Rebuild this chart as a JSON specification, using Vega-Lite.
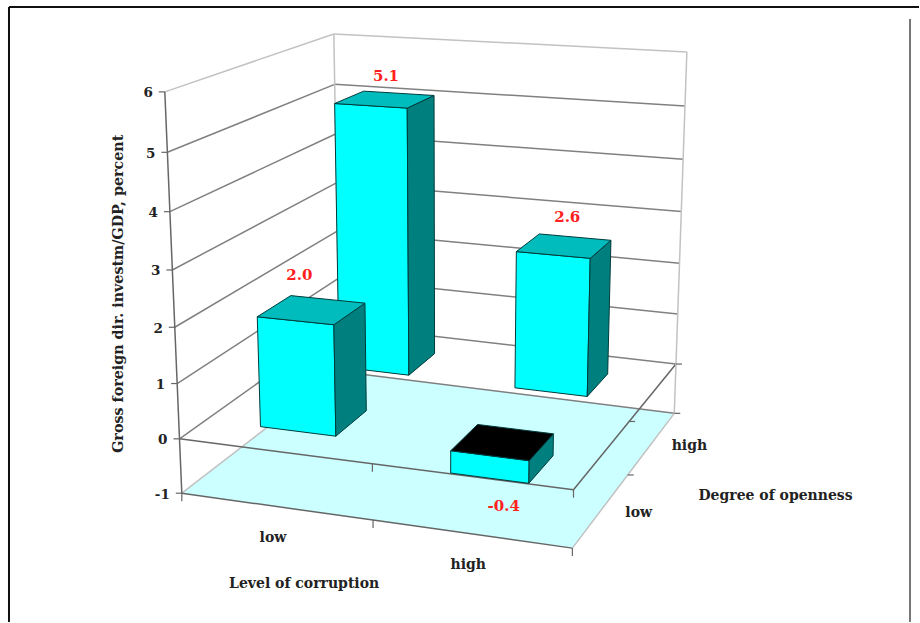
{
  "$schema": "https://vega.github.io/schema/vega-lite/v6.json",
  "width": 920,
  "height": 623,
  "padding": 0,
  "autosize": {"type": "fit", "contains": "padding"},
  "background": "white",
  "config": {"view": {"stroke": null}},
  "data": {
    "values": [
      {"part": "frame", "edge": "top"},
      {"part": "frame", "edge": "left"},
      {"part": "frame", "edge": "right"},
      {"part": "floor"},
      {"part": "level", "level": -1},
      {"part": "level", "level": 0},
      {"part": "level", "level": 1},
      {"part": "level", "level": 2},
      {"part": "level", "level": 3},
      {"part": "level", "level": 4},
      {"part": "level", "level": 5},
      {"part": "level", "level": 6},
      {"part": "bar", "corruption": "low", "openness": "high", "value": 5.1},
      {"part": "bar", "corruption": "high", "openness": "high", "value": 2.6},
      {"part": "bar", "corruption": "low", "openness": "low", "value": 2.0},
      {"part": "bar", "corruption": "high", "openness": "low", "value": -0.4},
      {"part": "category", "axis": "corruption", "label": "low"},
      {"part": "category", "axis": "corruption", "label": "high"},
      {"part": "category", "axis": "openness", "label": "low"},
      {"part": "category", "axis": "openness", "label": "high"},
      {"part": "title", "axis": "corruption", "label": "Level of corruption"},
      {"part": "title", "axis": "openness", "label": "Degree of openness"},
      {"part": "title", "axis": "value", "label": "Gross foreign dir. investm/GDP, percent"}
    ]
  },
  "transform": [
    {
      "calculate": "datum.part==='floor' ? [{seg:'floor',i:0,u:0,v:0},{seg:'floor',i:1,u:1,v:0},{seg:'floor',i:2,u:1,v:1},{seg:'floor',i:3,u:0,v:1},{seg:'floor',i:4,u:0,v:0}] : datum.part==='level' ? [{seg:'left',i:0,u:0,v:0},{seg:'left',i:1,u:0,v:1},{seg:'back',i:0,u:0,v:1},{seg:'back',i:1,u:1,v:1},{seg:'front',i:0,u:0,v:0},{seg:'front',i:1,u:0.5,v:0},{seg:'front',i:2,u:1,v:0},{seg:'right',i:0,u:1,v:0},{seg:'right',i:1,u:1,v:0.5},{seg:'right',i:2,u:1,v:1}] : datum.part==='bar' ? [{seg:'front',i:0,a:0,b:0,t:0},{seg:'front',i:1,a:1,b:0,t:0},{seg:'front',i:2,a:1,b:0,t:1},{seg:'front',i:3,a:0,b:0,t:1},{seg:'front',i:4,a:0,b:0,t:0},{seg:'side',i:0,a:1,b:0,t:0},{seg:'side',i:1,a:1,b:1,t:0},{seg:'side',i:2,a:1,b:1,t:1},{seg:'side',i:3,a:1,b:0,t:1},{seg:'side',i:4,a:1,b:0,t:0},{seg:'top',i:0,a:0,b:0,t:1},{seg:'top',i:1,a:1,b:0,t:1},{seg:'top',i:2,a:1,b:1,t:1},{seg:'top',i:3,a:0,b:1,t:1},{seg:'top',i:4,a:0,b:0,t:1},{seg:'label',i:0,a:0.5,b:0.5,t:1}] : datum.part==='category' ? [{seg:'category',i:0,u:datum.axis==='corruption'?(datum.label==='low'?0.25:0.75):1,v:datum.axis==='corruption'?0:(datum.label==='low'?0.25:0.75)}] : [{seg:'title',i:0,u:datum.axis==='corruption'?0.5:(datum.axis==='openness'?1:0),v:datum.axis==='openness'?0.5:0}]",
      "as": "vertex"
    },
    {"flatten": ["vertex"], "as": ["vtx"]},
    {"calculate": "datum.vtx.seg", "as": "seg"},
    {"calculate": "datum.vtx.i", "as": "i"},
    {"calculate": "datum.part==='bar' ? (datum.corruption==='low'?0.146:0.645)+datum.vtx.a*0.2 : datum.vtx.u", "as": "u"},
    {"calculate": "datum.part==='bar' ? (datum.openness==='low'?0.146:0.65)+datum.vtx.b*0.2 : datum.vtx.v", "as": "v"},
    {"calculate": "datum.part==='bar' ? (datum.vtx.t ? max(datum.value,0) : min(datum.value,0)) : datum.part==='level' ? datum.level : (datum.part==='title' && datum.axis==='value') ? 2.5 : -1", "as": "z"},
    {"calculate": "(datum.z+1)/7", "as": "w"},
    {"calculate": "1-0.04046*datum.u+0.17948*datum.v-0.06*datum.w", "as": "depth"},
    {"calculate": "(182+367.82*datum.u+219.02*datum.v-26.9*datum.w)/datum.depth", "as": "px"},
    {"calculate": "(494+32.79*datum.u-55.23*datum.v+(-407.5-14.74*datum.u+6.79*datum.v)*datum.w)/datum.depth", "as": "py"}
  ],
  "encoding": {
    "x": {"field": "px", "type": "quantitative", "scale": {"domain": [0, 920], "nice": false, "zero": false}, "axis": null},
    "y": {"field": "py", "type": "quantitative", "scale": {"domain": [0, 623], "reverse": true, "nice": false, "zero": false}, "axis": null}
  },
  "layer": [
    {
      "transform": [{"filter": "datum.part==='frame' && datum.edge==='top'"}],
      "mark": {"type": "rule", "stroke": "#111111", "strokeWidth": 2},
      "encoding": {
        "x": {"datum": 9, "type": "quantitative", "scale": {"domain": [0, 920], "nice": false, "zero": false}, "axis": null},
        "x2": {"datum": 920},
        "y": {"datum": 7, "type": "quantitative", "scale": {"domain": [0, 623], "reverse": true, "nice": false, "zero": false}, "axis": null}
      }
    },
    {
      "transform": [{"filter": "datum.part==='frame' && datum.edge==='left'"}],
      "mark": {"type": "rule", "stroke": "#111111", "strokeWidth": 2},
      "encoding": {
        "x": {"datum": 9, "type": "quantitative", "scale": {"domain": [0, 920], "nice": false, "zero": false}, "axis": null},
        "y": {"datum": 7, "type": "quantitative", "scale": {"domain": [0, 623], "reverse": true, "nice": false, "zero": false}, "axis": null},
        "y2": {"datum": 623}
      }
    },
    {
      "transform": [{"filter": "datum.part==='frame' && datum.edge==='right'"}],
      "mark": {"type": "rule", "stroke": "#777777", "strokeWidth": 2},
      "encoding": {
        "x": {"datum": 911, "type": "quantitative", "scale": {"domain": [0, 920], "nice": false, "zero": false}, "axis": null},
        "y": {"datum": 19, "type": "quantitative", "scale": {"domain": [0, 623], "reverse": true, "nice": false, "zero": false}, "axis": null},
        "y2": {"datum": 623}
      }
    },
    {
      "transform": [{"filter": "datum.part==='floor'"}],
      "mark": {"type": "line", "fill": "#ccffff", "strokeOpacity": 0},
      "encoding": {"order": {"field": "i", "type": "quantitative"}}
    },
    {
      "transform": [
        {"filter": "datum.part==='level' && (datum.seg==='left' || datum.seg==='back' || datum.z<=0)"},
        {"calculate": "datum.z===6 || (datum.z===-1 && (datum.seg==='left' || datum.seg==='right')) ? 'faint' : (datum.seg==='front' || datum.seg==='right') ? 'axis' : 'grid'", "as": "tone"},
        {"calculate": "datum.seg+'/'+datum.z", "as": "line"}
      ],
      "mark": {"type": "line", "strokeWidth": 1.5},
      "encoding": {
        "detail": {"field": "line"},
        "order": {"field": "i", "type": "quantitative"},
        "color": {"field": "tone", "type": "nominal", "legend": null, "scale": {"domain": ["axis", "grid", "faint"], "range": ["#666666", "#808080", "#c2c2c2"]}}
      }
    },
    {
      "transform": [
        {"filter": "datum.part==='level' && ((datum.seg==='left' && datum.i===0) || datum.seg==='back')"},
        {"calculate": "datum.u+','+datum.v", "as": "post"},
        {"calculate": "datum.post==='0,0' ? 'axis' : 'faint'", "as": "tone"}
      ],
      "mark": {"type": "line", "strokeWidth": 1.5},
      "encoding": {
        "detail": {"field": "post"},
        "order": {"field": "z", "type": "quantitative"},
        "color": {"field": "tone", "type": "nominal", "legend": null, "scale": {"domain": ["axis", "grid", "faint"], "range": ["#666666", "#808080", "#c2c2c2"]}}
      }
    },
    {
      "transform": [
        {"filter": "datum.part==='level' && ((datum.seg==='left' && datum.i===0) || (datum.z<=0 && ((datum.seg==='front' && (datum.i>0 || datum.z===-1)) || (datum.seg==='right' && datum.i>0))))"},
        {"calculate": "datum.px+(datum.seg==='left' ? -6 : datum.seg==='right' ? 6 : 0)", "as": "tickX"},
        {"calculate": "datum.py+(datum.seg==='front' ? 8 : 0)", "as": "tickY"}
      ],
      "mark": {"type": "rule", "stroke": "#666666", "strokeWidth": 1.2},
      "encoding": {
        "x2": {"field": "tickX"},
        "y2": {"field": "tickY"}
      }
    },
    {
      "transform": [
        {"filter": "datum.part==='bar' && datum.seg!=='label'"},
        {"calculate": "datum.value<0 && datum.seg==='top' ? 'underside' : datum.seg", "as": "shade"},
        {"calculate": "datum.corruption+'/'+datum.openness+'/'+datum.seg", "as": "face"}
      ],
      "mark": {"type": "line", "stroke": "#003b3b", "strokeWidth": 1, "strokeJoin": "round"},
      "encoding": {
        "detail": {"field": "face"},
        "order": {"field": "i", "type": "quantitative"},
        "fill": {"field": "shade", "type": "nominal", "legend": null, "scale": {"domain": ["front", "side", "top", "underside"], "range": ["#00ffff", "#007f7f", "#00bcbc", "#000000"]}}
      }
    },
    {
      "transform": [
        {"filter": "datum.part==='level' && datum.seg==='left' && datum.i===0"},
        {"calculate": "datum.px-12", "as": "labelX"},
        {"calculate": "''+datum.z", "as": "levelText"}
      ],
      "mark": {"type": "text", "align": "right", "baseline": "middle", "font": "DejaVu Serif", "fontWeight": "bold", "fontSize": 13.5, "fill": "#222222", "dy": 1.5},
      "encoding": {
        "x": {"field": "labelX", "type": "quantitative"},
        "text": {"field": "levelText", "type": "nominal"}
      }
    },
    {
      "transform": [
        {"filter": "datum.part==='bar' && datum.seg==='label'"},
        {"calculate": "datum.px+(datum.value===2 ? -12.5 : datum.value===2.6 ? 3 : 1)", "as": "labelX"},
        {"calculate": "datum.py+(datum.value<0 ? 64 : datum.value===2 ? -35 : datum.value===2.6 ? -28.5 : -23.6)", "as": "labelY"},
        {"calculate": "(datum.value<0 ? '-' : '')+format(abs(datum.value),'.1f')", "as": "valueText"}
      ],
      "mark": {"type": "text", "align": "center", "baseline": "middle", "font": "DejaVu Serif", "fontWeight": "bold", "fontSize": 15, "fill": "#ff2020"},
      "encoding": {
        "x": {"field": "labelX", "type": "quantitative"},
        "y": {"field": "labelY", "type": "quantitative"},
        "text": {"field": "valueText", "type": "nominal"}
      }
    },
    {
      "transform": [
        {"filter": "datum.part==='category'"},
        {"calculate": "datum.px+(datum.axis==='corruption' ? -3.5 : 37.5)", "as": "labelX"},
        {"calculate": "datum.py+(datum.axis==='corruption' ? 31.5 : 3)", "as": "labelY"}
      ],
      "mark": {"type": "text", "align": "center", "baseline": "middle", "font": "DejaVu Serif", "fontWeight": "bold", "fontSize": 14, "fill": "#222222"},
      "encoding": {
        "x": {"field": "labelX", "type": "quantitative"},
        "y": {"field": "labelY", "type": "quantitative"},
        "text": {"field": "label", "type": "nominal"}
      }
    },
    {
      "transform": [
        {"filter": "datum.part==='title' && datum.axis!=='value'"},
        {"calculate": "datum.px+(datum.axis==='corruption' ? -69 : 148)", "as": "labelX"},
        {"calculate": "datum.py+(datum.axis==='corruption' ? 64 : 21)", "as": "labelY"}
      ],
      "mark": {"type": "text", "align": "center", "baseline": "middle", "font": "DejaVu Serif", "fontWeight": "bold", "fontSize": 14, "fill": "#222222"},
      "encoding": {
        "x": {"field": "labelX", "type": "quantitative"},
        "y": {"field": "labelY", "type": "quantitative"},
        "text": {"field": "label", "type": "nominal"}
      }
    },
    {
      "transform": [
        {"filter": "datum.part==='title' && datum.axis==='value'"},
        {"calculate": "datum.px-55", "as": "labelX"},
        {"calculate": "datum.py-5", "as": "labelY"}
      ],
      "mark": {"type": "text", "align": "center", "baseline": "middle", "angle": 270, "font": "DejaVu Serif", "fontWeight": "bold", "fontSize": 14.3, "fill": "#222222"},
      "encoding": {
        "x": {"field": "labelX", "type": "quantitative"},
        "y": {"field": "labelY", "type": "quantitative"},
        "text": {"field": "label", "type": "nominal"}
      }
    }
  ]
}
